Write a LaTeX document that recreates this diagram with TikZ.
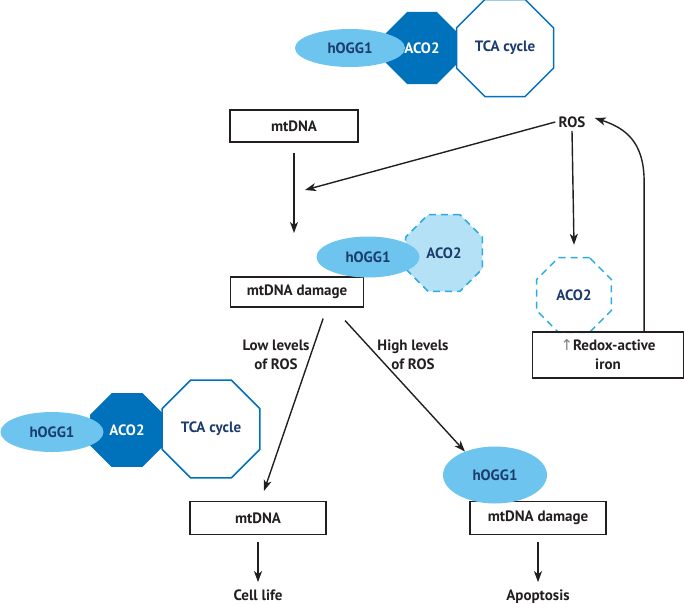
\documentclass[tikz,border=0pt]{standalone}
\usepackage{fontspec}
\setmainfont{PT Sans}
\newfontfamily\symfont{DejaVu Sans}
\usetikzlibrary{shapes.geometric,arrows.meta}
\definecolor{lightblue}{HTML}{6DC4EE}
\definecolor{darkblue}{HTML}{0071BB}
\definecolor{navy}{HTML}{1B3C6C}
\definecolor{dashblue}{HTML}{2AABE2}
\definecolor{paleblue}{HTML}{B5E1F6}
\definecolor{ink}{HTML}{231F20}

\begin{document}
\begin{tikzpicture}[x=1pt,y=-1pt,font=\fontsize{15}{19}\selectfont\bfseries,
  arr/.style={-{Stealth[length=11pt,width=8pt,inset=3pt]},line width=1.4pt,draw=ink},
  dnabox/.style={draw=ink,line width=1.2pt,minimum width=#1,minimum height=32pt,inner sep=0pt,text=ink},
  enzyme/.style={ellipse,fill=lightblue,text=navy,inner sep=0pt},
  acofull/.style={regular polygon,regular polygon sides=8,fill=darkblue,text=white,inner sep=0pt,minimum size=78pt},
  tca/.style={regular polygon,regular polygon sides=8,draw=darkblue,line width=1.5pt,fill=white,text=navy,inner sep=0pt,minimum size=105pt},
  acoloss/.style={regular polygon,regular polygon sides=8,draw=dashblue,dash pattern=on 7pt off 5pt,line width=1.5pt,text=navy,inner sep=0pt,minimum size=82pt},
  note/.style={text=ink,align=center},
  fate/.style={text=ink,inner sep=1pt,anchor=base}]
\useasboundingbox (0,0) rectangle (684,603);
\node[acofull] (aco1) at (422,48) {ACO2};
\node[tca] (tca1) at (505,48) {TCA cycle};
\node[enzyme,minimum width=110pt,minimum height=38pt] (hg1) at (350,48) {hOGG1};
\node[dnabox=128pt] (m1) at (294,126) {mtDNA};
\node[note] (ros) at (572,122) {ROS};
\node[acoloss,fill=paleblue,minimum size=83pt] (aco2) at (444,253) {ACO2};
\node[dnabox=133pt,minimum height=30pt] (md1) at (297,292) {mtDNA damage};
\node[enzyme,minimum width=103pt,minimum height=41pt] (hg2) at (368,257) {hOGG1};
\node[acoloss,minimum size=81pt] (aco3) at (574,295) {ACO2};
\node[dnabox=151pt,minimum height=46pt,align=center] (iron) at (608,355) {{\symfont\mdseries\color{gray}↑}Redox-active\\iron};
\node[note] (low) at (276,355) {Low levels\\of ROS};
\node[note] (high) at (413,355) {High levels\\of ROS};
\node[acofull,minimum size=80pt] (aco4) at (127,430) {ACO2};
\node[tca,minimum size=106pt] (tca4) at (211,429) {TCA cycle};
\node[enzyme,minimum width=103pt,minimum height=40pt] (hg4) at (52,432) {hOGG1};
\node[dnabox=136pt,minimum height=33pt] (m2) at (258,518) {mtDNA};
\node[dnabox=136pt,minimum height=33pt] (md2) at (538,518) {mtDNA damage};
\node[enzyme,minimum width=104pt,minimum height=57pt] (hg3) at (495,475) {hOGG1};
\node[fate] (life) at (258,600) {Cell life};
\node[fate] (apop) at (538,600) {Apoptosis};
\coordinate (dmgin) at (294,233);
\coordinate (rostip) at (305,190);
\draw[arr] ([yshift=-10pt]m1.south) -- (dmgin);
\draw[arr] (ros.west) -- (rostip);
\draw[arr] (ros.south) -- ([yshift=12pt]aco3.north);
\draw[arr] ([xshift=-40pt]iron.north east) -- ++(0,-150) .. controls ++(0,-40) and (625,128) .. ([xshift=6pt,yshift=4pt]ros.east);
\draw[arr] ([xshift=-41pt,yshift=-11pt]md1.south east) -- ([xshift=6pt,yshift=10pt]m2.north);
\draw[arr] ([xshift=-19pt,yshift=-13pt]md1.south east) -- (hg3.142);
\draw[arr] ([yshift=-7pt]m2.south) -- ([yshift=6pt]life.north);
\draw[arr] ([yshift=-7pt]md2.south) -- ([yshift=6pt]apop.north);
\end{tikzpicture}
\end{document}
